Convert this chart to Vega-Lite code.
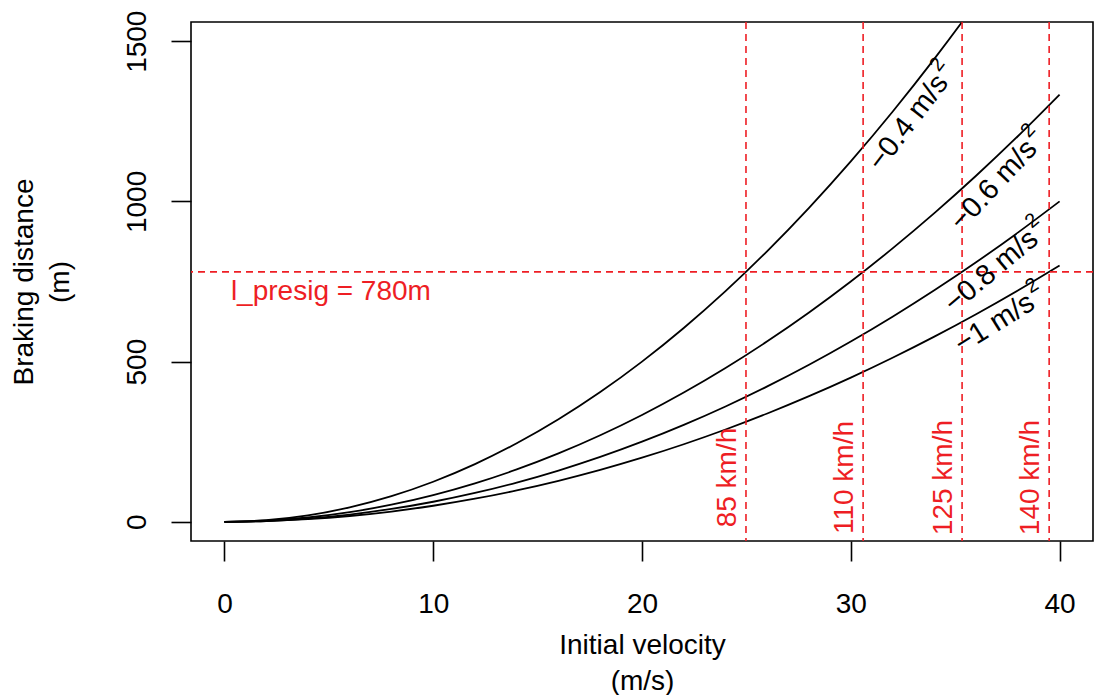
{
  "$schema": "https://vega.github.io/schema/vega-lite/v6.json",
  "width": 902,
  "height": 519,
  "autosize": {"type": "none"},
  "padding": {"left": 191, "top": 22, "right": 1, "bottom": 154},
  "background": "white",
  "config": {
    "view": {"stroke": "black", "strokeWidth": 1.6},
    "font": "Liberation Sans",
    "axis": {
      "grid": false,
      "domain": false,
      "tickColor": "black",
      "tickWidth": 1.6,
      "tickSize": 20,
      "labelFont": "Liberation Sans",
      "labelFontSize": 28,
      "labelColor": "black",
      "titleFont": "Liberation Sans",
      "titleFontSize": 28,
      "titleFontWeight": "normal",
      "titleColor": "black",
      "titleLineHeight": 36
    }
  },
  "datasets": {
    "curves": [
      {"v": 0, "d": 0, "a": "0.4"}, {"v": 2, "d": 5, "a": "0.4"}, {"v": 4, "d": 20, "a": "0.4"}, {"v": 6, "d": 45, "a": "0.4"}, {"v": 8, "d": 80, "a": "0.4"}, {"v": 10, "d": 125, "a": "0.4"}, {"v": 12, "d": 180, "a": "0.4"}, {"v": 14, "d": 245, "a": "0.4"}, {"v": 16, "d": 320, "a": "0.4"}, {"v": 18, "d": 405, "a": "0.4"}, {"v": 20, "d": 500, "a": "0.4"}, {"v": 22, "d": 605, "a": "0.4"}, {"v": 24, "d": 720, "a": "0.4"}, {"v": 26, "d": 845, "a": "0.4"}, {"v": 28, "d": 980, "a": "0.4"}, {"v": 30, "d": 1125, "a": "0.4"}, {"v": 32, "d": 1280, "a": "0.4"}, {"v": 34, "d": 1445, "a": "0.4"}, {"v": 36, "d": 1620, "a": "0.4"}, {"v": 38, "d": 1805, "a": "0.4"},
      {"v": 0, "d": 0, "a": "0.6"}, {"v": 2, "d": 3.33, "a": "0.6"}, {"v": 4, "d": 13.33, "a": "0.6"}, {"v": 6, "d": 30, "a": "0.6"}, {"v": 8, "d": 53.33, "a": "0.6"}, {"v": 10, "d": 83.33, "a": "0.6"}, {"v": 12, "d": 120, "a": "0.6"}, {"v": 14, "d": 163.33, "a": "0.6"}, {"v": 16, "d": 213.33, "a": "0.6"}, {"v": 18, "d": 270, "a": "0.6"}, {"v": 20, "d": 333.33, "a": "0.6"}, {"v": 22, "d": 403.33, "a": "0.6"}, {"v": 24, "d": 480, "a": "0.6"}, {"v": 26, "d": 563.33, "a": "0.6"}, {"v": 28, "d": 653.33, "a": "0.6"}, {"v": 30, "d": 750, "a": "0.6"}, {"v": 32, "d": 853.33, "a": "0.6"}, {"v": 34, "d": 963.33, "a": "0.6"}, {"v": 36, "d": 1080, "a": "0.6"}, {"v": 38, "d": 1203.33, "a": "0.6"}, {"v": 40, "d": 1333.33, "a": "0.6"},
      {"v": 0, "d": 0, "a": "0.8"}, {"v": 2, "d": 2.5, "a": "0.8"}, {"v": 4, "d": 10, "a": "0.8"}, {"v": 6, "d": 22.5, "a": "0.8"}, {"v": 8, "d": 40, "a": "0.8"}, {"v": 10, "d": 62.5, "a": "0.8"}, {"v": 12, "d": 90, "a": "0.8"}, {"v": 14, "d": 122.5, "a": "0.8"}, {"v": 16, "d": 160, "a": "0.8"}, {"v": 18, "d": 202.5, "a": "0.8"}, {"v": 20, "d": 250, "a": "0.8"}, {"v": 22, "d": 302.5, "a": "0.8"}, {"v": 24, "d": 360, "a": "0.8"}, {"v": 26, "d": 422.5, "a": "0.8"}, {"v": 28, "d": 490, "a": "0.8"}, {"v": 30, "d": 562.5, "a": "0.8"}, {"v": 32, "d": 640, "a": "0.8"}, {"v": 34, "d": 722.5, "a": "0.8"}, {"v": 36, "d": 810, "a": "0.8"}, {"v": 38, "d": 902.5, "a": "0.8"}, {"v": 40, "d": 1000, "a": "0.8"},
      {"v": 0, "d": 0, "a": "1"}, {"v": 2, "d": 2, "a": "1"}, {"v": 4, "d": 8, "a": "1"}, {"v": 6, "d": 18, "a": "1"}, {"v": 8, "d": 32, "a": "1"}, {"v": 10, "d": 50, "a": "1"}, {"v": 12, "d": 72, "a": "1"}, {"v": 14, "d": 98, "a": "1"}, {"v": 16, "d": 128, "a": "1"}, {"v": 18, "d": 162, "a": "1"}, {"v": 20, "d": 200, "a": "1"}, {"v": 22, "d": 242, "a": "1"}, {"v": 24, "d": 288, "a": "1"}, {"v": 26, "d": 338, "a": "1"}, {"v": 28, "d": 392, "a": "1"}, {"v": 30, "d": 450, "a": "1"}, {"v": 32, "d": 512, "a": "1"}, {"v": 34, "d": 578, "a": "1"}, {"v": 36, "d": 648, "a": "1"}, {"v": 38, "d": 722, "a": "1"}, {"v": 40, "d": 800, "a": "1"}
    ],
    "speeds": [
      {"v": 24.98, "lv": 24.5, "ly": 138, "label": "85 km/h"},
      {"v": 30.59, "lv": 30.11, "ly": 138, "label": "110 km/h"},
      {"v": 35.33, "lv": 34.85, "ly": 138, "label": "125 km/h"},
      {"v": 39.5, "lv": 39.02, "ly": 138, "label": "140 km/h"}
    ]
  },
  "layer": [
    {
      "data": {"name": "curves"},
      "mark": {"type": "line", "color": "black", "strokeWidth": 1.8, "interpolate": "monotone", "clip": true},
      "encoding": {
        "x": {"field": "v", "type": "quantitative", "scale": {"domain": [-1.6, 41.6], "nice": false, "zero": false},
          "axis": {"values": [0, 10, 20, 30, 40], "labelPadding": 29, "titlePadding": 13, "title": ["Initial velocity", "(m/s)"]}},
        "y": {"field": "d", "type": "quantitative", "scale": {"domain": [-60, 1560], "nice": false, "zero": false},
          "axis": {"values": [0, 500, 1000, 1500], "format": "d", "labelAngle": -90, "labelAlign": "center", "labelBaseline": "bottom", "labelPadding": 20, "titlePadding": 49, "title": ["Braking distance", "(m)"]}},
        "detail": {"field": "a", "type": "nominal"}
      }
    },
    {
      "data": {"values": [{"d": 780}]},
      "mark": {"type": "rule", "color": "#EE1E24", "strokeWidth": 1.6, "strokeDash": [7, 5]},
      "encoding": {"y": {"field": "d", "type": "quantitative"}}
    },
    {
      "data": {"name": "speeds"},
      "mark": {"type": "rule", "color": "#EE1E24", "strokeWidth": 1.6, "strokeDash": [7, 5]},
      "encoding": {"x": {"field": "v", "type": "quantitative"}}
    },
    {
      "data": {"name": "speeds"},
      "mark": {"type": "text", "color": "#EE1E24", "fontSize": 28, "angle": 270, "align": "center", "baseline": "alphabetic"},
      "encoding": {
        "x": {"field": "lv", "type": "quantitative"},
        "y": {"field": "ly", "type": "quantitative"},
        "text": {"field": "label"}
      }
    },
    {
      "data": {"values": [{"v": 5.1, "d": 692, "label": "l_presig = 780m"}]},
      "mark": {"type": "text", "color": "#EE1E24", "fontSize": 28, "align": "center", "baseline": "alphabetic"},
      "encoding": {
        "x": {"field": "v", "type": "quantitative"},
        "y": {"field": "d", "type": "quantitative"},
        "text": {"field": "label"}
      }
    },
    {
      "data": {"values": [{"v": 32.92, "d": 1262, "label": "\u22120.4 m/s"}]},
      "encoding": {"x": {"field": "v", "type": "quantitative"}, "y": {"field": "d", "type": "quantitative"}},
      "layer": [
        {"mark": {"type": "text", "color": "black", "fontSize": 29, "angle": -52.5, "align": "center", "baseline": "middle", "dx": -6},
         "encoding": {"text": {"field": "label"}}},
        {"mark": {"type": "text", "color": "black", "fontSize": 20, "angle": -52.5, "align": "left", "baseline": "middle", "dx": 52, "dy": -12},
         "encoding": {"text": {"value": "2"}}}
      ]
    },
    {
      "data": {"values": [{"v": 37.03, "d": 1065, "label": "\u22120.6 m/s"}]},
      "encoding": {"x": {"field": "v", "type": "quantitative"}, "y": {"field": "d", "type": "quantitative"}},
      "layer": [
        {"mark": {"type": "text", "color": "black", "fontSize": 29, "angle": -47, "align": "center", "baseline": "middle", "dx": -6},
         "encoding": {"text": {"field": "label"}}},
        {"mark": {"type": "text", "color": "black", "fontSize": 20, "angle": -47, "align": "left", "baseline": "middle", "dx": 52, "dy": -12},
         "encoding": {"text": {"value": "2"}}}
      ]
    },
    {
      "data": {"values": [{"v": 36.94, "d": 795, "label": "\u22120.8 m/s"}]},
      "encoding": {"x": {"field": "v", "type": "quantitative"}, "y": {"field": "d", "type": "quantitative"}},
      "layer": [
        {"mark": {"type": "text", "color": "black", "fontSize": 29, "angle": -40, "align": "center", "baseline": "middle", "dx": -6},
         "encoding": {"text": {"field": "label"}}},
        {"mark": {"type": "text", "color": "black", "fontSize": 20, "angle": -40, "align": "left", "baseline": "middle", "dx": 52, "dy": -12},
         "encoding": {"text": {"value": "2"}}}
      ]
    },
    {
      "data": {"values": [{"v": 37.13, "d": 630, "label": "\u22121 m/s"}]},
      "encoding": {"x": {"field": "v", "type": "quantitative"}, "y": {"field": "d", "type": "quantitative"}},
      "layer": [
        {"mark": {"type": "text", "color": "black", "fontSize": 29, "angle": -32, "align": "center", "baseline": "middle", "dx": -6},
         "encoding": {"text": {"field": "label"}}},
        {"mark": {"type": "text", "color": "black", "fontSize": 20, "angle": -32, "align": "left", "baseline": "middle", "dx": 40, "dy": -12},
         "encoding": {"text": {"value": "2"}}}
      ]
    }
  ]
}
